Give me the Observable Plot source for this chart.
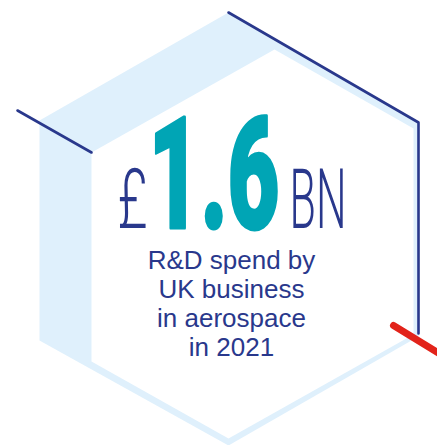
<!DOCTYPE html>
<html><head><meta charset="utf-8">
<script src="https://cdn.jsdelivr.net/npm/d3@7"></script>
<script src="https://cdn.jsdelivr.net/npm/@observablehq/plot@0.6"></script>
<style>html,body{margin:0;padding:0;background:#fff;overflow:hidden}</style>
</head><body><div id="chart"></div>
<script>
// Headline figure
const currencySymbol = "£";
const headlineValue = "1.6";
const unitLabel = "BN";
const captionLines = ["R&D spend by", "UK business", "in aerospace", "in 2021"];

// Decorative hexagon geometry (pixel-space data units)
const outerHexX = [228, 418, 418, 228, 39, 39];
const outerHexY = [12, 122, 336, 445, 340, 120];
const innerHexX = [274, 413, 413, 228, 91, 91];
const innerHexY = [49, 128, 334, 438, 361, 152];
const edgeLineX = [228, 418, 418];
const edgeLineY = [12, 122, 333];
const leftLineX = [17, 91];
const leftLineY = [110, 152];
const redLineX = [393, 450];
const redLineY = [325, 360];

const navy = "#29388c";
const teal = "#00a5b5";
const pale = "#dff0fc";
const red = "#e2231a";

const idx = a => d3.range(a.length);

const plot = Plot.plot({
  width: 437, height: 445,
  margin: 0,
  x: {domain: [0, 437], range: [0, 437], axis: null},
  y: {domain: [0, 445], range: [0, 445], axis: null},
  marks: [
    Plot.line(idx(outerHexX), {x: i => outerHexX[i], y: i => outerHexY[i], curve: "linear-closed", fill: pale, stroke: "none"}),
    Plot.line(idx(innerHexX), {x: i => innerHexX[i], y: i => innerHexY[i], curve: "linear-closed", fill: "white", stroke: "none"}),
    Plot.line(idx(edgeLineX), {x: i => edgeLineX[i], y: i => edgeLineY[i], stroke: navy, strokeWidth: 2.6}),
    Plot.line(idx(leftLineX), {x: i => leftLineX[i], y: i => leftLineY[i], stroke: navy, strokeWidth: 2.6}),
    Plot.line(idx(redLineX), {x: i => redLineX[i], y: i => redLineY[i], stroke: red, strokeWidth: 7}),
    Plot.text([currencySymbol], {x: () => 117, y: () => 227, text: d => d, textAnchor: "start", fontFamily: "Roboto", fontWeight: 300, fontSize: 84, fill: navy}),
    Plot.text([headlineValue], {x: () => 148, y: () => 227, text: d => d, textAnchor: "start", fontFamily: "Roboto", fontWeight: 900, fontSize: 156, fill: teal, stroke: teal, strokeWidth: 3}),
    Plot.text([unitLabel], {x: () => 289, y: () => 227, text: d => d, textAnchor: "start", fontFamily: "Roboto", fontWeight: 300, fontSize: 84, fill: navy}),
    Plot.text(captionLines, {x: () => 231, y: (d, i) => 268 + i * 29, text: d => d, textAnchor: "middle", fontFamily: "Liberation Sans, Arial, sans-serif", fontSize: 26, fill: navy})
  ]
});

const root = d3.select(plot);
root.selectAll("text").attr("dy", null).attr("y", null);
const squeeze = {[currencySymbol]: 30, [headlineValue]: 131, [unitLabel]: 57};
root.selectAll("text").each(function() {
  const t = this.textContent;
  if (t in squeeze) {
    d3.select(this).attr("textLength", squeeze[t]).attr("lengthAdjust", "spacingAndGlyphs");
  }
});
document.getElementById("chart").appendChild(plot);
</script>
</body></html>
